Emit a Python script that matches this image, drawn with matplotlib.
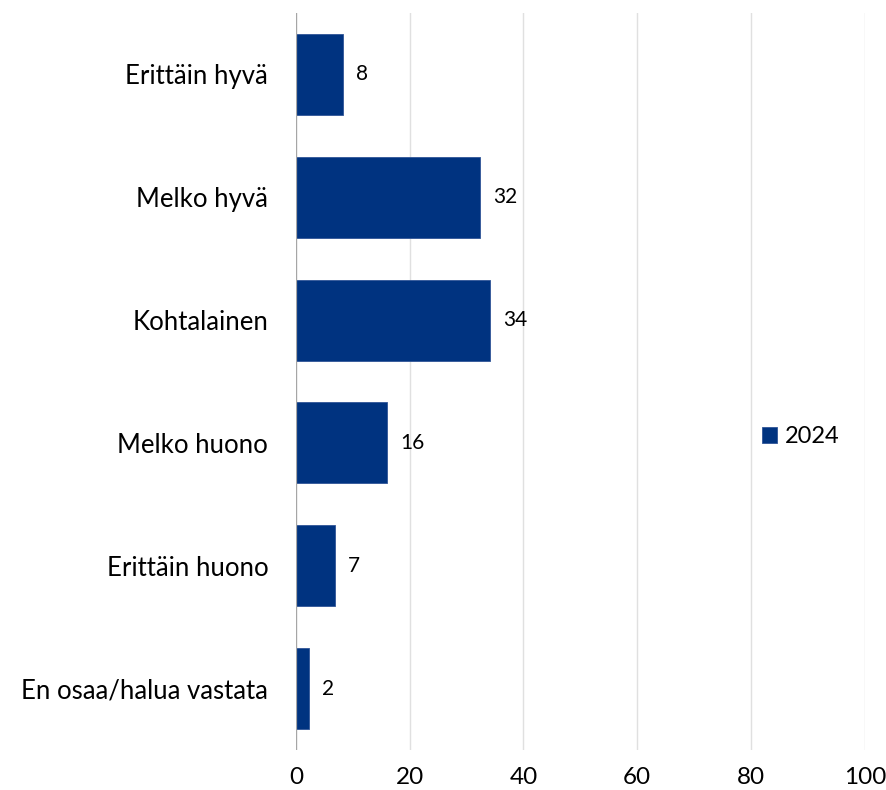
import matplotlib.pyplot as plt

plt.rcParams['font.family'] = ['Lato', 'DejaVu Sans']

categories = ['Erittäin hyvä', 'Melko hyvä', 'Kohtalainen', 'Melko huono',
              'Erittäin huono', 'En osaa/halua vastata']
values_2024 = [8.2, 32.3, 34.1, 16.0, 6.8, 2.3]
x_ticks = [0, 20, 40, 60, 80, 100]

bar_color = '#003380'

fig = plt.figure(figsize=(8.86, 7.90), dpi=100)
ax = fig.add_axes([0.334, 0.0506, 0.642, 0.933])

ypos = list(range(len(categories)))
bars = ax.barh(ypos, values_2024, height=0.66, color=bar_color,
               edgecolor='#2F5597', linewidth=0.6, label='2024', zorder=3)

for y, v in zip(ypos, values_2024):
    ax.annotate(f'{round(v)}', xy=(v, y), xytext=(9.5, 0), textcoords='offset points',
                ha='left', va='center', fontsize=15, color='#000000')

ax.set_xlim(0, 100)
ax.set_ylim(len(categories) - 0.5, -0.5)
ax.set_yticks(ypos)
ax.set_yticklabels(categories, fontsize=18.5)
ax.set_xticks(x_ticks)
ax.set_xticklabels([str(t) for t in x_ticks], fontsize=17.5)
ax.tick_params(axis='both', length=0)
ax.tick_params(axis='y', pad=20)
ax.tick_params(axis='x', pad=12)

ax.grid(axis='x', color='#E0E0E0', linewidth=1.0, zorder=0)
ax.axvline(0, color='#A6A6A6', linewidth=1.6, zorder=4)
for s in ax.spines.values():
    s.set_visible(False)

fig.legend(handles=[bars], labels=['2024'], loc='center left',
           bbox_to_anchor=(0.860, 0.447), frameon=False, fontsize=17,
           handlelength=0.65, handleheight=0.65, handletextpad=0.3,
           borderaxespad=0, borderpad=0)

fig.savefig('out.png', dpi=100, facecolor='white')
